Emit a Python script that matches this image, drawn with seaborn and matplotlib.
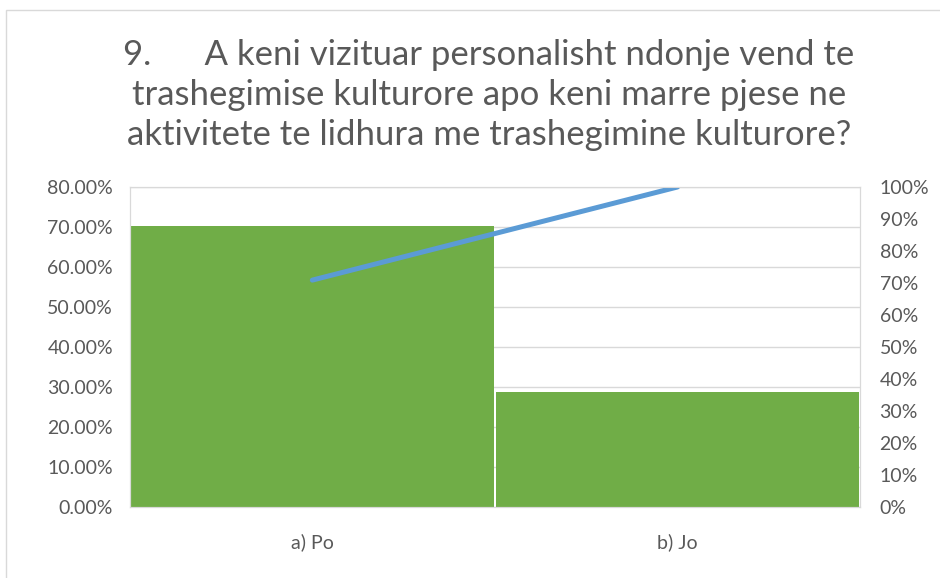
import seaborn as sns
import pandas as pd
import matplotlib.pyplot as plt
from matplotlib.ticker import FuncFormatter, MultipleLocator

# Survey answers (share of respondents) and the cumulative pareto line
categories = ['a) Po', 'b) Jo']
shares = [70.3, 28.8]
cumulative = [70.9, 100.0]

title = ('9.      A keni vizituar personalisht ndonje vend te\n'
         'trashegimise kulturore apo keni marre pjese ne\n'
         'aktivitete te lidhura me trashegimine kulturore?')

df = pd.DataFrame({'cat': categories, 'share': shares, 'cum': cumulative})

sns.set_style('white')
plt.rcParams['font.family'] = ['Lato', 'DejaVu Sans']
grey = '#595959'

fig = plt.figure(figsize=(9.4, 5.78), dpi=100)
ax = fig.add_axes([0.138, 0.1228, 0.777, 0.5537])

sns.barplot(data=df, x='cat', y='share', color='#70AD47', width=0.995,
            saturation=1, linewidth=0, ax=ax, zorder=2)
ax.set_xlim(-0.5, 1.5)
ax.set_ylim(0, 80)
ax.yaxis.set_major_locator(MultipleLocator(10))
ax.yaxis.set_major_formatter(FuncFormatter(lambda v, p: f'{v:.2f}%'))
ax.grid(axis='y', color='#d9d9d9', linewidth=1, zorder=0)
ax.set_axisbelow(True)
ax.set_xlabel('')
ax.set_ylabel('')
ax.tick_params(axis='both', length=0, labelsize=14, colors=grey)
ax.tick_params(axis='y', pad=12)
ax.tick_params(axis='x', pad=19)
for s in ax.spines.values():
    s.set_color('#d9d9d9')

ax2 = ax.twinx()
sns.lineplot(x=[0, 1], y=df['cum'], color='#5B9BD5', linewidth=3.6, ax=ax2)
ax2.set_ylim(0, 100)
ax2.yaxis.set_major_locator(MultipleLocator(10))
ax2.yaxis.set_major_formatter(FuncFormatter(lambda v, p: f'{v:.0f}%'))
ax2.tick_params(axis='y', length=0, labelsize=14, colors=grey, pad=14)
ax2.set_ylabel('')
for s in ax2.spines.values():
    s.set_color('#d9d9d9')

fig.text(0.52, 0.836, title, ha='center', va='center', fontsize=25,
         color=grey, linespacing=1.3)

# light frame around the whole chart
fig.patches.append(plt.Rectangle((0.006, -0.01), 1.1, 0.993, transform=fig.transFigure,
                                 fill=False, edgecolor='#d9d9d9', linewidth=1))

fig.savefig('out.png', dpi=100)
